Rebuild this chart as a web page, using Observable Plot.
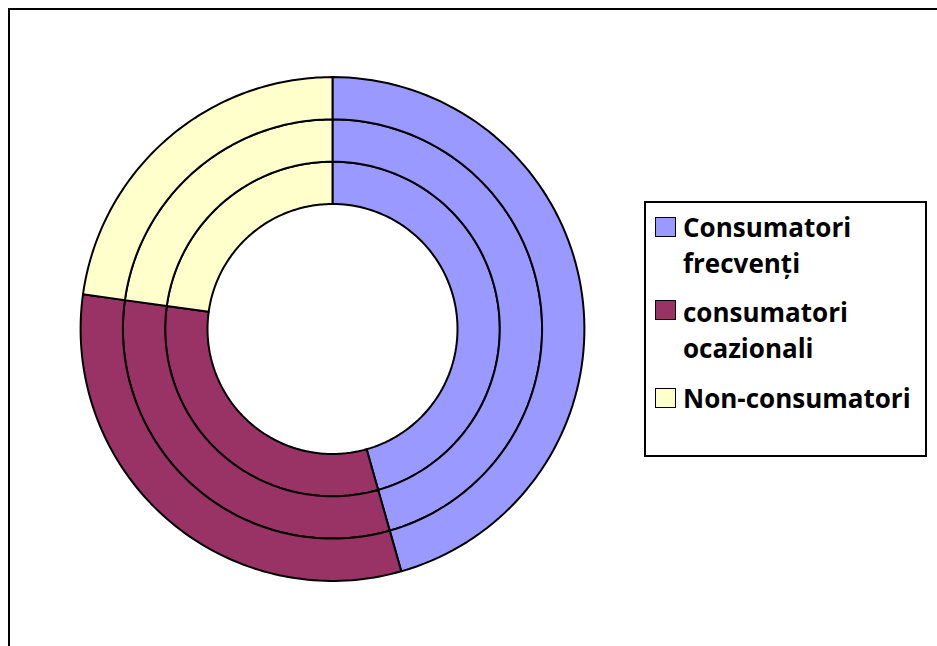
<!DOCTYPE html>
<html>
<head>
<meta charset="utf-8">
<script src="https://cdn.jsdelivr.net/npm/d3@7"></script>
<script src="https://cdn.jsdelivr.net/npm/@observablehq/plot@0.6"></script>
<style>
  html, body { margin: 0; padding: 0; background: #fff; overflow: hidden; }
  #wrap { position: relative; width: 937px; height: 646px; overflow: hidden; }
  #frame { position: absolute; left: 8px; top: 8px; width: 1000px; height: 1000px; border: 2px solid #000; box-sizing: border-box; pointer-events: none; }
  #chart { position: absolute; left: 0; top: 0; }
  #legend { position: absolute; left: 644px; top: 201px; width: 283px; height: 256px; border: 2px solid #000; box-sizing: border-box; background: #fff;
    font-family: "Open Sans", "Noto Sans", sans-serif; font-weight: 700; font-size: 26px; color: #000; }
  .sw { position: absolute; left: 9px; width: 21px; height: 20px; border: 1.5px solid #000; box-sizing: border-box; }
  .lbl { position: absolute; left: 37px; line-height: 36px; white-space: nowrap; }
</style>
</head>
<body>
<div id="wrap">
  <div id="chart"></div>
  <div id="frame"></div>
  <div id="legend"></div>
</div>
<script>
// Data
const categories = ["Consumatori frecvenți", "consumatori ocazionali", "Non-consumatori"];
const colors = ["#9999FF", "#993366", "#FFFFCC"];
const ringInner = [45.6, 31.6, 22.8];
const ringMiddle = [45.6, 31.6, 22.8];
const ringOuter = [45.6, 31.6, 22.8];
const rings = [ringInner, ringMiddle, ringOuter];
const legendLines = [["Consumatori", "frecvenți"], ["consumatori", "ocazionali"], ["Non-consumatori"]];

// Geometry (ring index -> radii in scale units)
const holeR = 125, ringW = 42.3;

const pts = [];
rings.forEach((vals, ri) => {
  const total = d3.sum(vals);
  let acc = 0;
  vals.forEach((v, ci) => {
    const a0 = acc / total * 2 * Math.PI;
    acc += v;
    const a1 = acc / total * 2 * Math.PI;
    const r0 = holeR + ri * ringW, r1 = holeR + (ri + 1) * ringW;
    const id = `${ri}-${ci}`;
    const n = 90;
    for (let i = 0; i <= n; i++) {
      const a = a0 + (a1 - a0) * i / n;
      pts.push({id, cat: categories[ci], X: r1 * Math.sin(a), Y: r1 * Math.cos(a)});
    }
    for (let i = n; i >= 0; i--) {
      const a = a0 + (a1 - a0) * i / n;
      pts.push({id, cat: categories[ci], X: r0 * Math.sin(a), Y: r0 * Math.cos(a)});
    }
    const a = a0;
    pts.push({id, cat: categories[ci], X: r1 * Math.sin(a), Y: r1 * Math.cos(a)});
  });
});

const W = 937, H = 646, cx = 332, cy = 328.5;
const chart = Plot.plot({
  width: W, height: H,
  margin: 0,
  x: {domain: [-cx, W - cx], axis: null},
  y: {domain: [cy - H, cy], axis: null},
  color: {domain: categories, range: colors},
  marks: [
    Plot.line(pts, {x: "X", y: "Y", z: "id", fill: "cat", stroke: "#000", strokeWidth: 2, strokeLinejoin: "round"})
  ]
});
document.getElementById("chart").appendChild(chart);

// Legend
const legend = document.getElementById("legend");
const swTops = [14, 97, 185];
const lineTops = [[5.9, 41.9], [90.9, 126.9], [176.9]];
categories.forEach((c, i) => {
  const sw = document.createElement("div");
  sw.className = "sw";
  sw.style.top = swTops[i] + "px";
  sw.style.background = colors[i];
  legend.appendChild(sw);
  legendLines[i].forEach((t, j) => {
    const l = document.createElement("div");
    l.className = "lbl";
    l.style.top = lineTops[i][j] + "px";
    l.textContent = t;
    legend.appendChild(l);
  });
});
</script>
</body>
</html>
